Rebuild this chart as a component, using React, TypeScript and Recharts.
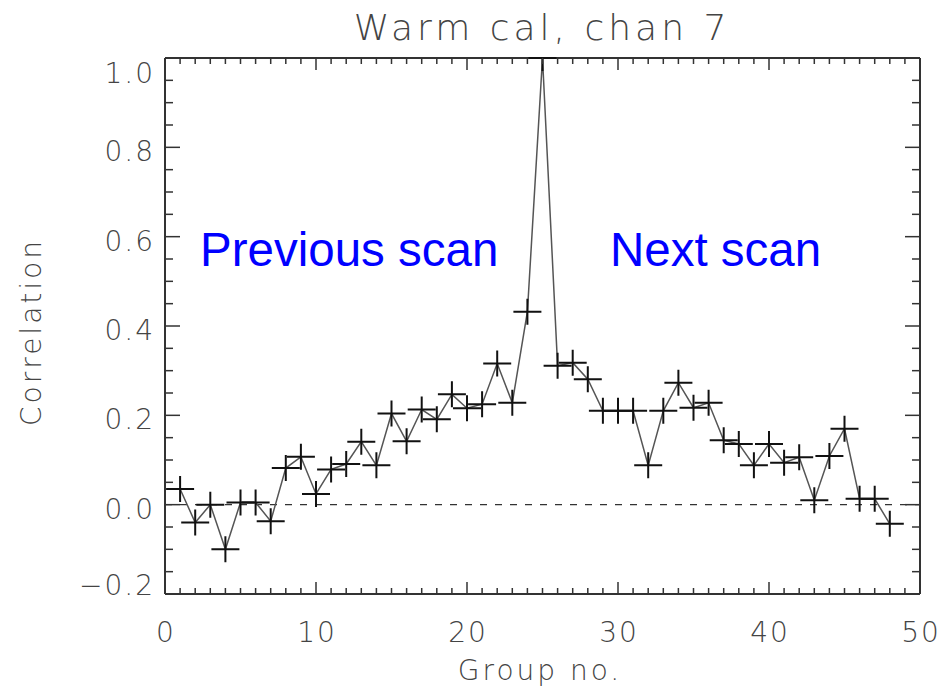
import React from 'react';
import { LineChart, Line, XAxis, YAxis, ReferenceLine } from 'recharts';

// group number (x) and correlation (y)
const groups = [
	1, 2, 3, 4, 5, 6, 7, 8, 9, 10, 11, 12, 13, 14, 15, 16, 17, 18, 19, 20, 21, 22, 23, 24,
	25, 26, 27, 28, 29, 30, 31, 32, 33, 34, 35, 36, 37, 38, 39, 40, 41, 42, 43, 44, 45, 46, 47, 48,
];
const correlation = [
	0.035, -0.04, 0.0, -0.1, 0.005, 0.005, -0.037, 0.082, 0.107, 0.024, 0.079, 0.091,
	0.141, 0.088, 0.204, 0.142, 0.213, 0.191, 0.247, 0.216, 0.225, 0.316, 0.228, 0.432,
	1.0, 0.311, 0.318, 0.281, 0.21, 0.21, 0.21, 0.088, 0.21, 0.273, 0.217, 0.228,
	0.144, 0.136, 0.088, 0.136, 0.094, 0.106, 0.01, 0.109, 0.17, 0.013, 0.013, -0.043,
];

const xMajorTicks = [0, 10, 20, 30, 40, 50];
const yMajorTicks = [-0.2, 0.0, 0.2, 0.4, 0.6, 0.8, 1.0];
const xTicks = Array.from({ length: 51 }, (_, i) => i);
const yTicks = Array.from({ length: 25 }, (_, i) => Math.round((-0.2 + i * 0.05) * 100) / 100);
const yMax = 1.0;

const data = groups.map((g, i) => ({ group: g, corr: correlation[i] }));

const AXIS = '#333';
const LABEL_FONT = { fontFamily: 'DejaVu Sans', fontWeight: 200, fontSize: 28, fill: '#444', letterSpacing: 2 };

const isMajorX = (v: number) => xMajorTicks.includes(v);
const isMajorY = (v: number) => yMajorTicks.some(t => Math.abs(t - v) < 1e-6);
const fmtY = (v: number) => (v < 0 ? '\u2212' + Math.abs(v).toFixed(1) : v.toFixed(1));

const BottomTick = ({ x, y, payload }: any) => {
	const v = payload.value;
	const major = isMajorX(v);
	return (
		<g>
			<line x1={x} y1={y} x2={x} y2={y - (major ? 12 : 6)} stroke={AXIS} strokeWidth={1.5} />
			{major && (
				<text x={x + 1} y={y + 48} textAnchor="middle" style={LABEL_FONT}>
					{v}
				</text>
			)}
		</g>
	);
};

const TopTick = ({ x, y, payload }: any) => {
	const major = isMajorX(payload.value);
	return <line x1={x} y1={y} x2={x} y2={y + (major ? 12 : 6)} stroke={AXIS} strokeWidth={1.5} />;
};

const LeftTick = ({ x, y, payload }: any) => {
	const v = payload.value;
	const major = isMajorY(v);
	let shift = 4;
	if (Math.abs(v - 1.0) < 1e-6) shift = 15;
	if (Math.abs(v + 0.2) < 1e-6) shift = -9;
	return (
		<g>
			<line x1={x} y1={y} x2={x + (major ? 15 : 8)} y2={y} stroke={AXIS} strokeWidth={1.5} />
			{major && (
				<text x={x - 10} y={y + shift + 10} textAnchor="end" style={LABEL_FONT}>
					{fmtY(v)}
				</text>
			)}
		</g>
	);
};

const RightTick = ({ x, y, payload }: any) => {
	const major = isMajorY(payload.value);
	return <line x1={x} y1={y} x2={x - (major ? 15 : 8)} y2={y} stroke={AXIS} strokeWidth={1.5} />;
};

// plus marker, clipped at the top frame like the original plot
const PlusMark = ({ cx, cy, atTop }: any) => (
	<path
		d={`M${cx - 14},${cy}h28M${cx},${cy + 13}V${atTop ? cy : cy - 13}`}
		stroke="#111"
		strokeWidth={2}
		fill="none"
	/>
);

const textBase: React.CSSProperties = {
	position: 'absolute',
	fontFamily: 'DejaVu Sans',
	fontWeight: 200,
	color: '#444',
	whiteSpace: 'nowrap',
	lineHeight: 1,
};

const blueText: React.CSSProperties = {
	position: 'absolute',
	fontFamily: 'Liberation Sans, Arial, sans-serif',
	fontSize: 47.5,
	color: '#0000ff',
	whiteSpace: 'nowrap',
	lineHeight: 1,
};

export default function App() {
	return (
		<div style={{ position: 'absolute', left: 0, top: 0, width: 944, height: 694, background: '#fff' }}>
			<LineChart width={944} height={694} data={data} margin={{ top: 57, right: 0, bottom: 0, left: 0 }}>
				<XAxis
					dataKey="group"
					type="number"
					domain={[0, 50]}
					ticks={xTicks}
					interval={0}
					height={100}
					tickSize={0}
					tickMargin={0}
					tick={<BottomTick />}
					axisLine={{ stroke: AXIS, strokeWidth: 2 }}
					tickLine={false}
				/>
				<XAxis
					xAxisId="top"
					dataKey="group"
					orientation="top"
					type="number"
					domain={[0, 50]}
					ticks={xTicks}
					interval={0}
					height={1}
					tickSize={0}
					tickMargin={0}
					tick={<TopTick />}
					axisLine={{ stroke: AXIS, strokeWidth: 2 }}
					tickLine={false}
				/>
				<YAxis
					type="number"
					domain={[-0.2, yMax]}
					ticks={yTicks}
					interval={0}
					width={165}
					tickSize={0}
					tickMargin={0}
					tick={<LeftTick />}
					axisLine={{ stroke: AXIS, strokeWidth: 2 }}
					tickLine={false}
				/>
				<YAxis
					yAxisId="right"
					orientation="right"
					type="number"
					domain={[-0.2, yMax]}
					ticks={yTicks}
					interval={0}
					width={24}
					tickSize={0}
					tickMargin={0}
					tick={<RightTick />}
					axisLine={{ stroke: AXIS, strokeWidth: 2 }}
					tickLine={false}
				/>
				<ReferenceLine y={0} stroke="#333" strokeWidth={1.2} strokeDasharray="7 8" />
				<Line
					xAxisId="top"
					yAxisId="right"
					dataKey="corr"
					stroke="none"
					dot={false}
					activeDot={false}
					legendType="none"
					isAnimationActive={false}
				/>
				<Line
					dataKey="corr"
					stroke="#555"
					strokeWidth={1.5}
					dot={(p: any) => (
						<PlusMark key={`pt-${p.index}`} cx={p.cx} cy={p.cy} atTop={p.value >= yMax} />
					)}
					activeDot={false}
					isAnimationActive={false}
				/>
			</LineChart>
			<div
				style={{ ...textBase, fontSize: 36, letterSpacing: 4, left: 542, top: 10, transform: 'translateX(-50%)' }}
			>
				Warm cal, chan 7
			</div>
			<div
				style={{ ...textBase, fontSize: 28, letterSpacing: 3, left: 540, top: 657, transform: 'translateX(-50%)' }}
			>
				Group no.
			</div>
			<div
				style={{
					...textBase,
					fontSize: 28,
					letterSpacing: 3,
					left: 32,
					top: 332,
					transform: 'translate(-50%, -50%) rotate(-90deg)',
				}}
			>
				Correlation
			</div>
			<div style={{ ...blueText, left: 200, top: 226 }}>Previous scan</div>
			<div style={{ ...blueText, left: 610, top: 226 }}>Next scan</div>
		</div>
	);
}
